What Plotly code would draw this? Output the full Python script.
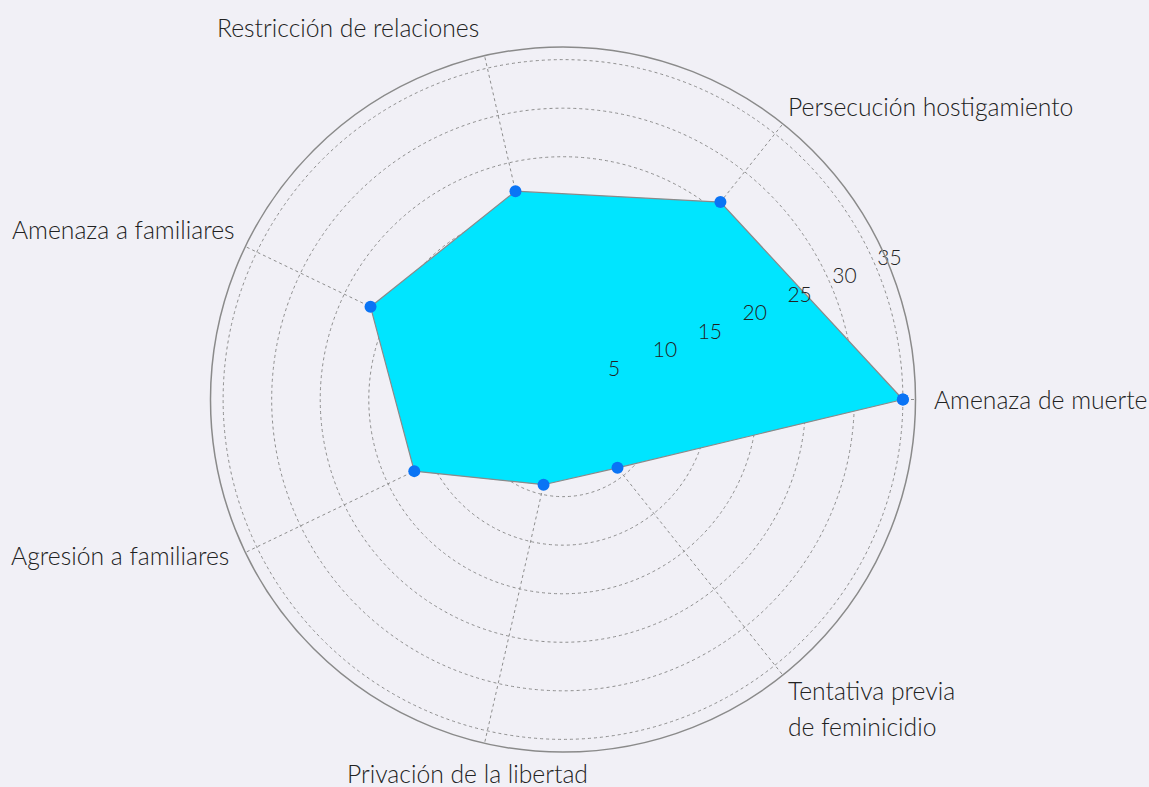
import plotly.graph_objects as go

categories = ["Amenaza de muerte", "Persecución hostigamiento", "Restricción de relaciones",
              "Amenaza a familiares", "Agresión a familiares", "Privación de la libertad",
              "Tentativa previa de feminicidio"]
values = [35, 26, 22, 22, 17, 9, 9]
tick_vals = [5, 10, 15, 20, 25, 30, 35]

n = len(categories)
angles = [i * 360.0 / n for i in range(n)]

W, H = 1149, 787
ML, MR, MT, MB = 102, 125, 46.5, 34.5

# label placement in pixels (style/positioning only): (lines, x, y, xanchor)
label_layout = [
    (["Amenaza de muerte"], 932, [400], "left"),
    (["Persecución hostigamiento"], 786, [106], "left"),
    (["Restricción de relaciones"], 481, [27], "right"),
    (["Amenaza a familiares"], 237, [229], "right"),
    (["Agresión a familiares"], 231, [556], "right"),
    (["Privación de la libertad"], 467, [774], "center"),
    (["Tentativa previa", "de feminicidio"], 786, [691, 727], "left"),
]
tick_label_theta = 22.4

BG = "#F1F0F6"
FONT = "Lato"
TXT = "#222222"

fig = go.Figure()
fig.add_trace(go.Scatterpolar(
    r=values + values[:1],
    theta=angles + angles[:1],
    mode="lines+markers",
    fill="toself",
    fillcolor="#00E5FF",
    line=dict(color="#8A8A8A", width=1.2),
    marker=dict(color="#0A74F5", size=12),
    hoverinfo="skip",
))
# radial tick labels
fig.add_trace(go.Scatterpolar(
    r=tick_vals,
    theta=[tick_label_theta] * len(tick_vals),
    mode="text",
    text=[str(v) for v in tick_vals],
    textposition="top right",
    textfont=dict(size=21, family=FONT, color=TXT, weight=300),
    hoverinfo="skip",
    cliponaxis=False,
))

def px_to_paper(x, y):
    return (x - ML) / (W - ML - MR), (H - MB - y) / (H - MT - MB)

annotations = []
for (lines, x, ys, xa) in label_layout:
    for line, y in zip(lines, ys):
        px, py = px_to_paper(x, y)
        annotations.append(dict(
            text=line, x=px, y=py, xref="paper", yref="paper",
            xanchor=xa, yanchor="middle", showarrow=False,
            font=dict(size=24.7, family=FONT, color=TXT, weight=300),
        ))

fig.update_layout(
    width=W, height=H,
    paper_bgcolor=BG,
    plot_bgcolor=BG,
    showlegend=False,
    margin=dict(l=ML, r=MR, t=MT, b=MB),
    font=dict(family=FONT, color=TXT),
    annotations=annotations,
    polar=dict(
        bgcolor=BG,
        radialaxis=dict(
            range=[0, 36.3],
            tickvals=tick_vals,
            showticklabels=False,
            showline=False,
            ticks="",
            gridcolor="#8E8E8E",
            griddash="dot",
            gridwidth=1,
            layer="above traces",
        ),
        angularaxis=dict(
            direction="counterclockwise",
            rotation=0,
            tickmode="array",
            tickvals=angles,
            showticklabels=False,
            showline=True,
            linecolor="#8A8A8A",
            linewidth=1.5,
            gridcolor="#8E8E8E",
            griddash="dot",
            gridwidth=1,
            ticks="",
            layer="above traces",
        ),
    ),
)

fig.write_html("out.html", config={"displayModeBar": False},
               post_script="document.body.style.margin='0';document.body.style.overflow='hidden';")
